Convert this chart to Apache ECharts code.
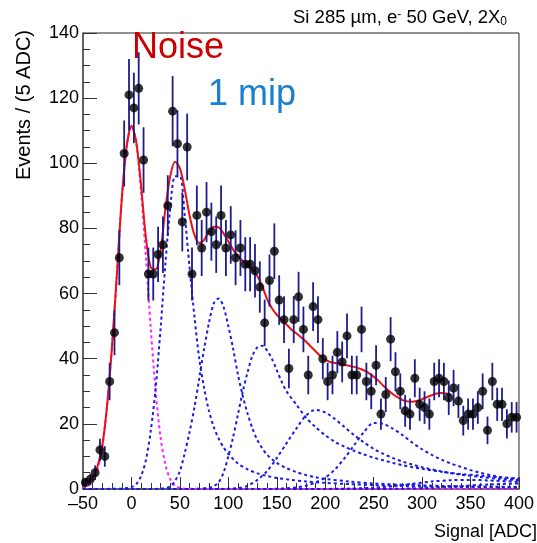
<!DOCTYPE html>
<html>
<head>
<meta charset="utf-8">
<script src="https://cdn.jsdelivr.net/npm/echarts@6/dist/echarts.min.js"></script>
<style>
html,body{margin:0;padding:0;background:#fff;}
#c{width:537px;height:543px;}
</style>
</head>
<body>
<div id="c"></div>
<script>
// ---- data ----
const binStart = -50, binWidth = 5;
const counts = [2,3,5,12,10,33,48,71,103,121,117,123,101,66,66,72,75,87,116,106,
  82,105,66,84,74,85,79,75,84,74,78,71,74,69,69,67,62,51,64,73,
  58,52,37,52,59,49,35,56,52,40,33,35,42,39,47,35,35,49,33,30,
  38,23,29,46,36,30,24,23,34,26,25,23,33,34,33,28,31,27,21,23,
  23,25,30,18,33,26,26,20,22,22];

const totalX = [-50,-45,-40,-35,-30,-25,-20,-15,-10,-5,0,5,10,15,20,25,30,35,40,45,50,55,60,65,70,75,80,85,90,95,100,
  105,110,115,120,125,130,135,140,145,150,155,160,165,170,175,180,185,190,195,200,
  205,210,215,220,225,230,235,240,245,250,255,260,265,270,275,280,285,290,295,300,305,310,315,320,325,330];
const totalY = [1.0,2.0,3.5,7,13.5,26,44,66,89,105,111.5,106.5,93,77,68,67.5,73,86,96,100.5,98.5,92,84,78,75.5,76.5,79,80.5,80.3,78.5,76,
  73.5,71.5,70,68.8,67.3,65.3,62.3,58.3,55.5,53.5,52,50.5,49,47.8,46.6,45.3,43.8,42.3,40.8,39.7,
  39,38.7,38.5,38.1,37.8,37.5,37,36.4,35.6,34.5,33.2,31.7,30.3,29.1,28.1,27.3,26.9,26.8,27.1,27.6,28.2,28.8,29.3,29.5,29.3,28.9];

const noiseX = [-50,-45,-40,-35,-30,-25,-20,-15,-10,-5,0,5,10,15,20,25,30,35,40,45,50,55,100,200,300,400];
const noiseY = [0.3,0.8,2.4,6,13,26,44,66,89,105,111.5,106,91,71,49,30,16,7.5,3,1,0.3,0.1,0,0,0,0];

const mip1X = [-50,-20,-10,-5,0,5,10,15,20,25,30,35,40,45,50,55,60,65,70,75,80,85,90,95,100,110,120,130,140,150,165,180,200,225,250,300,350,400];
const mip1Y = [0,0.05,0.15,0.3,0.6,1.5,4,9,18,31,49,69,86,96,96,84,68,53,40,31,24,19,15.5,12.8,10.8,7.8,6,4.8,4,3.4,2.8,2.3,1.9,1.5,1.2,0.8,0.6,0.4];

const mip2X = [-50,0,20,30,35,40,45,50,55,60,65,70,75,80,85,90,95,100,105,110,115,120,125,130,135,140,150,160,170,180,190,200,225,250,300,350,400];
const mip2Y = [0,0,0,0.1,0.3,0.8,2.5,5.5,11,17.5,25,34,43,51,57,58.5,56,50,43,35,28.5,23,18.5,15,12.5,10.5,8,6.4,5.2,4.3,3.6,3.1,2.3,1.7,1.1,0.8,0.6];

const mip3X = [-50,0,60,70,80,85,90,95,100,105,110,115,120,125,130,135,140,145,150,155,160,170,180,190,200,210,220,230,240,250,260,270,280,290,300,320,340,360,380,400];
const mip3Y = [0,0,0,0.1,0.4,0.9,2,5,10,16,23,30,36,41,43.5,44,42.5,40,36.5,33,30,26,22,19,16.5,14.5,13,11.7,10.6,9.6,8.8,8,7.3,6.7,6.2,5.3,4.6,4.1,3.6,3.2];

const mip4X = [-50,0,50,90,100,110,120,130,140,150,160,170,180,190,200,210,220,230,240,250,260,270,280,290,300,320,340,360,380,400];
const mip4Y = [0,0,0,0,0.1,0.3,1,2.8,5.5,9.5,14,18.5,22.5,24.3,23.5,21.5,19,16.5,14.3,12.3,10.8,9.5,8.4,7.5,6.7,5.4,4.4,3.7,3.1,2.7];

const mip5X = [-50,0,50,100,140,160,170,180,190,200,210,220,230,240,250,260,270,280,290,300,310,320,330,340,350,360,370,380,390,400];
const mip5Y = [0,0,0,0,0,0.2,0.5,1,2,3.5,6,9.5,13.5,17.5,20.3,20,18.5,16.5,14.2,12.2,10.5,9,7.8,6.8,5.8,5,4.3,3.7,3.3,2.9];

const mip6X = [-50,0,50,100,150,180,220,250,270,290,310,330,350,370,400];
const mip6Y = [0,0,0,0,0,0,0.1,0.4,0.9,1.6,2.3,2.7,2.8,2.6,2.2];

const mip7X = [-50,0,50,100,150,200,240,280,310,340,370,400];
const mip7Y = [0,0,0,0,0,0,0,0.1,0.4,0.9,1.4,1.7];

const xTicks = [-50,0,50,100,150,200,250,300,350,400];
const yTicks = [0,20,40,60,80,100,120,140];

// ---- build ----
const zip = (xs, ys) => xs.map((x, i) => [x, ys[i]]);
const points = counts.map((c, k) => [binStart + binWidth * (k + 0.5), c]);
const errs = counts.map((c, k) => [binStart + binWidth * (k + 0.5), c - Math.sqrt(c), c + Math.sqrt(c)]);

const dashBlue = (name, xs, ys) => ({
  name, type: 'line', data: zip(xs, ys), smooth: 0.3, symbol: 'none', z: 2,
  lineStyle: {color: '#1a1ae6', width: 2, type: [3, 3]}, silent: true, animation: false
});

const chart = echarts.init(document.getElementById('c'), null, {renderer: 'canvas'});
const font = 'Liberation Sans, Arial, Helvetica, sans-serif';
chart.setOption({
  animation: false,
  backgroundColor: '#fff',
  grid: {left: 83, right: 14, top: 33, bottom: 54, show: true, borderColor: '#222', borderWidth: 1},
  xAxis: {
    type: 'value', min: xTicks[0], max: xTicks[xTicks.length - 1], interval: 50,
    axisLine: {show: true, onZero: false, lineStyle: {color: '#555', width: 1.5}},
    axisTick: {show: true, inside: true, length: 12, lineStyle: {color: '#333', width: 1}},
    minorTick: {show: true, splitNumber: 5, length: 6, lineStyle: {color: '#333', width: 1}},
    splitLine: {show: false},
    axisLabel: {fontSize: 18, color: '#000', margin: 6, fontFamily: font,
      formatter: v => v < 0 ? '\u2013' + Math.abs(v) : String(v), showMinLabel: true, showMaxLabel: true}
  },
  yAxis: {
    type: 'value', min: yTicks[0], max: yTicks[yTicks.length - 1], interval: 20,
    axisLine: {show: true, onZero: false, lineStyle: {color: '#555', width: 1.5}},
    axisTick: {show: true, inside: true, length: 14, lineStyle: {color: '#333', width: 1}},
    minorTick: {show: true, splitNumber: 4, length: 7, lineStyle: {color: '#333', width: 1}},
    splitLine: {show: false},
    axisLabel: {fontSize: 18, color: '#000', margin: 4, fontFamily: font}
  },
  series: [
    {name: 'noise', type: 'line', data: zip(noiseX, noiseY), smooth: 0.3, symbol: 'none', z: 2,
      lineStyle: {color: '#ff22ff', width: 2, type: [3, 3]}},
    dashBlue('1 mip', mip1X, mip1Y),
    dashBlue('2 mip', mip2X, mip2Y),
    dashBlue('3 mip', mip3X, mip3Y),
    dashBlue('4 mip', mip4X, mip4Y),
    dashBlue('5 mip', mip5X, mip5Y),
    dashBlue('6 mip', mip6X, mip6Y),
    dashBlue('7 mip', mip7X, mip7Y),
    {name: 'total', type: 'line', data: zip(totalX, totalY), smooth: 0.3, symbol: 'none', z: 3,
      lineStyle: {color: '#ee1111', width: 2}},
    {name: 'err', type: 'custom', z: 4, data: errs,
      renderItem: (params, api) => {
        const x = api.value(0);
        const a = api.coord([x, api.value(1)]);
        const b = api.coord([x, api.value(2)]);
        return {type: 'line', shape: {x1: a[0], y1: a[1], x2: b[0], y2: b[1]},
          style: {stroke: '#1c1c8c', lineWidth: 1.8}};
      }},
    {name: 'data', type: 'scatter', data: points, symbol: 'circle', symbolSize: 9, z: 5,
      itemStyle: {color: '#000'}}
  ],
  graphic: [
    {type: 'text', x: 507, y: 18, style: {
      text: 'Si 285 \u00b5m, e{sup|-} 50 GeV, 2X{sub|0}', font: '18.5px ' + font, fill: '#000',
      align: 'right', verticalAlign: 'middle',
      rich: {sup: {fontSize: 12, fontFamily: font, verticalAlign: 'top', fill: '#000'},
             sub: {fontSize: 12, fontFamily: font, verticalAlign: 'bottom', fill: '#000'}}}},
    {type: 'text', left: 132, top: 30, style: {text: 'Noise', font: '36px ' + font, fill: '#cc0000'}},
    {type: 'text', left: 208, top: 77, style: {text: '1 mip', font: '36px ' + font, fill: '#1a7fd0'}},
    {type: 'text', x: 24, y: 30, rotation: Math.PI / 2, style: {
      text: 'Events / (5 ADC)', font: '20px ' + font, fill: '#000', align: 'right', verticalAlign: 'middle'}},
    {type: 'text', x: 537, y: 532, style: {
      text: 'Signal [ADC]', font: '18px ' + font, fill: '#000', align: 'right', verticalAlign: 'middle'}}
  ]
});
</script>
</body>
</html>
